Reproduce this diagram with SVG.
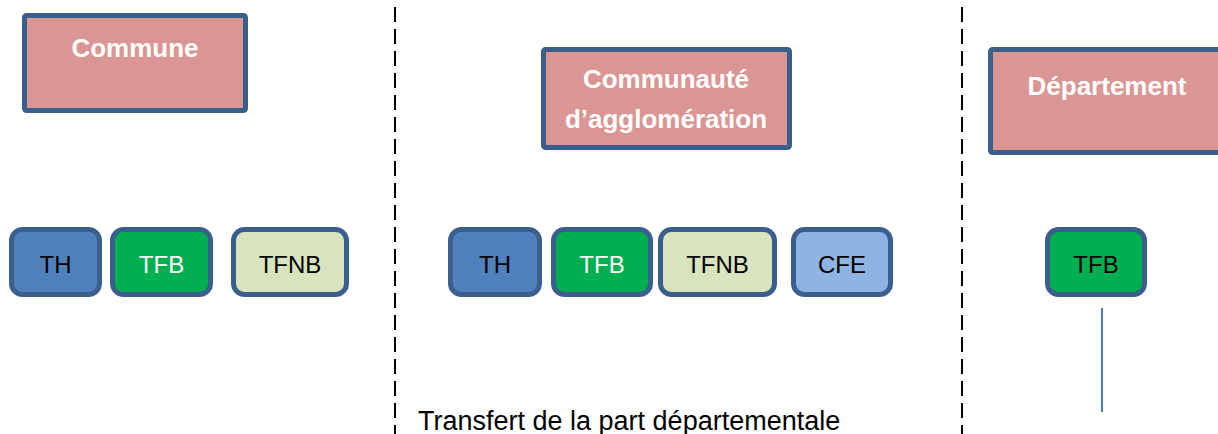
<svg xmlns="http://www.w3.org/2000/svg" width="1218" height="434" viewBox="0 0 1218 434">
<style>
.title{fill:#d99694;stroke:#3b5f8d;stroke-width:5}
.tb{font-family:"Liberation Sans",Arial,sans-serif;font-weight:bold;font-size:26px;fill:#ffffff;text-anchor:middle}
.tax{stroke:#3b5f8d;stroke-width:5}
.lbl{font-family:"Liberation Sans",Arial,sans-serif;font-size:24px;fill:#000000;text-anchor:middle}
.w{fill:#ffffff}
.th{fill:#4f81bd}.tfb{fill:#00b050}.tfnb{fill:#d7e4bd}.cfe{fill:#8eb4e3}
.sep{stroke:#000000;stroke-width:2;stroke-dasharray:15 7;fill:none}
</style>
<g id="separators">
<line class="sep" x1="395" y1="7" x2="395" y2="434"/>
<line class="sep" x1="962" y1="7" x2="962" y2="434"/>
</g>
<g id="commune">
<rect class="title" x="24.5" y="15.5" width="221" height="95" rx="2"/>
<text class="tb" x="135" y="57">Commune</text>
</g>
<g id="communaute">
<rect class="title" x="543.5" y="49.5" width="246" height="98" rx="2"/>
<text class="tb" x="666" y="88">Communauté</text>
<text class="tb" x="666" y="128">d’agglomération</text>
</g>
<g id="departement">
<rect class="title" x="990.5" y="49.5" width="240" height="103" rx="2"/>
<text class="tb" x="1107" y="95">Département</text>
</g>
<g id="c-th">
<rect class="tax th" x="11.5" y="229.5" width="88" height="65" rx="11"/>
<text class="lbl" x="55.5" y="273">TH</text>
</g>
<g id="c-tfb">
<rect class="tax tfb" x="112.5" y="229.5" width="98" height="65" rx="11"/>
<text class="lbl w" x="161.5" y="273">TFB</text>
</g>
<g id="c-tfnb">
<rect class="tax tfnb" x="233.5" y="229.5" width="113" height="65" rx="11"/>
<text class="lbl" x="290" y="273">TFNB</text>
</g>
<g id="a-th">
<rect class="tax th" x="450.5" y="229.5" width="89" height="65" rx="11"/>
<text class="lbl" x="495" y="273">TH</text>
</g>
<g id="a-tfb">
<rect class="tax tfb" x="553.5" y="229.5" width="97" height="65" rx="11"/>
<text class="lbl w" x="602" y="273">TFB</text>
</g>
<g id="a-tfnb">
<rect class="tax tfnb" x="660.5" y="229.5" width="114" height="65" rx="11"/>
<text class="lbl" x="717.5" y="273">TFNB</text>
</g>
<g id="a-cfe">
<rect class="tax cfe" x="793.5" y="229.5" width="97" height="65" rx="11"/>
<text class="lbl" x="842" y="273">CFE</text>
</g>
<g id="d-tfb">
<rect class="tax tfb" x="1047.5" y="229.5" width="97" height="65" rx="11"/>
<text class="lbl" x="1096" y="273">TFB</text>
</g>
<g id="connectors">
<line x1="1102" y1="308" x2="1102" y2="412" stroke="#4a7ebb" stroke-width="2"/>
</g>
<g id="caption">
<text font-family="'Liberation Sans',Arial,sans-serif" font-size="27" x="418" y="430" fill="#000000">Transfert de la part départementale</text>
</g>
</svg>
